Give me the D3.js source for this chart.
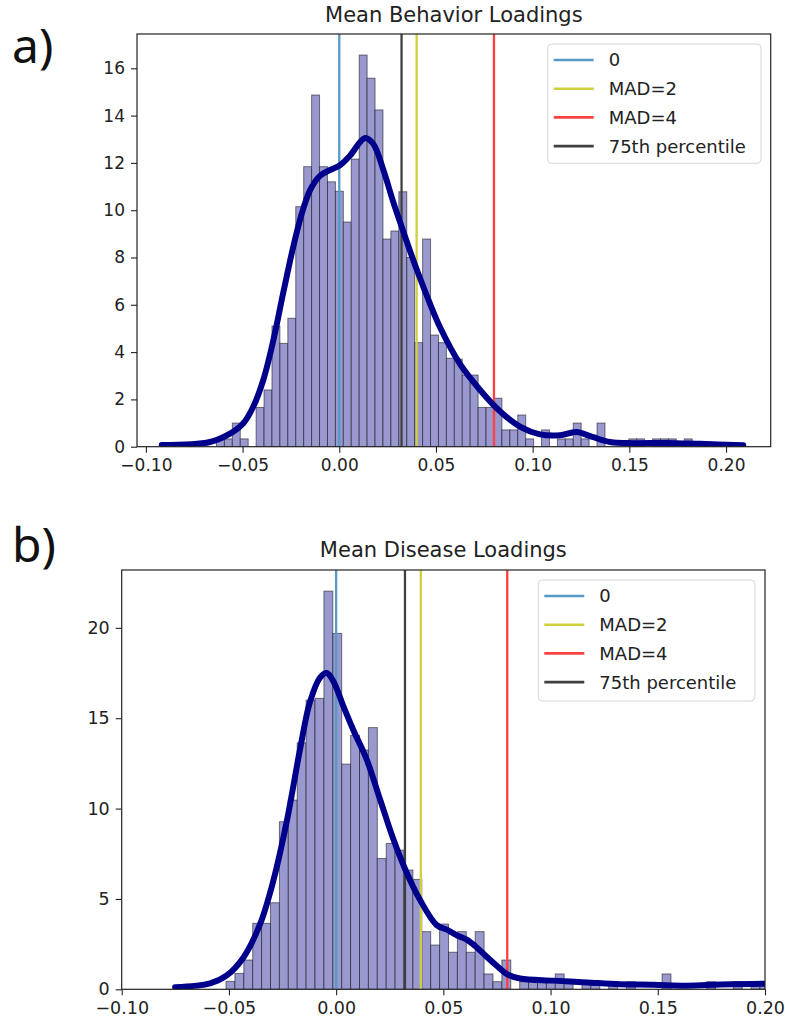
<!DOCTYPE html>
<html>
<head>
<meta charset="utf-8">
<script src="https://cdn.jsdelivr.net/npm/d3@7"></script>
<style>
  body { margin: 0; background: #fff; }
  text { font-family: "DejaVu Sans", sans-serif; }
</style>
</head>
<body>
<script>
// ---- data ----
var legendLabels = ["0", "MAD=2", "MAD=4", "75th percentile"];
var xTicks = [-0.10, -0.05, 0.00, 0.05, 0.10, 0.15, 0.20];

// a) behavior loadings: histogram (density) with fixed-width bins
var topBinStart = -0.0635, topBinWidth = 0.0041;
var topHeights = [0.33, 0.33, 1.0, 0.33, 0, 1.66, 2.4, 5.1, 4.37, 5.43,
  10.15, 11.84, 14.87, 11.84, 11.2, 10.8, 9.5, 12.16, 16.56, 15.58,
  14.24, 8.78, 9.12, 10.78, 8.0, 4.4, 8.78, 4.72, 4.4, 3.74,
  3.7, 3.03, 3.03, 1.66, 1.66, 2.05, 0.71, 0.71, 1.34, 0.33,
  0, 0.71, 0, 0.33, 0.33, 1.0, 0.33, 0, 1.0, 0,
  0, 0, 0.33, 0.33, 0, 0.33, 0.33, 0.33, 0, 0.33];
var topKde = [[-0.0918, 0.07], [-0.0669, 0.2], [-0.0565, 0.55], [-0.0496, 0.99], [-0.0445, 1.69],
  [-0.0393, 2.82], [-0.0341, 4.5], [-0.029, 6.5], [-0.0238, 8.45], [-0.0194, 9.85],
  [-0.0151, 10.85], [-0.01, 11.45], [-0.0048, 11.7], [0.0004, 11.9], [0.0055, 12.3],
  [0.0133, 13.05], [0.0176, 12.8], [0.0228, 11.7], [0.0279, 10.35], [0.0331, 9.1],
  [0.04, 7.5], [0.0469, 6.05], [0.0521, 5.05], [0.0624, 3.5], [0.0728, 2.4],
  [0.0831, 1.5], [0.0934, 0.85], [0.1038, 0.52], [0.1141, 0.48], [0.1227, 0.62],
  [0.1313, 0.4], [0.14, 0.2], [0.152, 0.15], [0.1693, 0.16], [0.1865, 0.12], [0.2089, 0.06]];
var topMarkers = [0, 0.040, 0.080, 0.0322];
var topYTicks = [0, 2, 4, 6, 8, 10, 12, 14, 16];

// b) disease loadings
var botBinStart = -0.05135, botBinWidth = 0.00415;
var botHeights = [0.44, 0.88, 1.62, 3.65, 3.65, 4.79, 9.27, 10.47, 13.64, 16.0,
  16.1, 22.03, 19.69, 12.46, 14.05, 13.24, 14.48, 7.24, 8.07, 7.7,
  6.6, 6.08, 3.19, 2.45, 3.61, 2.05, 3.19, 2.05, 3.19, 0.85,
  0.42, 1.62, 0, 0.42, 0.42, 0.42, 0.42, 0.85, 0.42, 0,
  0.42, 0.42, 0, 0.42, 0, 0.42, 0, 0, 0, 0.85,
  0, 0, 0, 0, 0.42, 0, 0, 0.42, 0, 0.42, 0.42];
var botKde = [[-0.0751, 0.12], [-0.0588, 0.33], [-0.051, 0.77], [-0.0433, 1.75], [-0.0355, 3.6],
  [-0.0293, 6.0], [-0.023, 9.3], [-0.0168, 13.3], [-0.0122, 15.9], [-0.0075, 17.25],
  [-0.0044, 17.5], [-0.0013, 17.05], [0.0034, 15.65], [0.008, 14.35], [0.0143, 12.7],
  [0.0205, 10.5], [0.0267, 8.3], [0.0329, 6.45], [0.0391, 4.95], [0.0469, 3.55],
  [0.0516, 3.3], [0.057, 2.95], [0.0609, 2.75], [0.0648, 2.4], [0.0702, 1.8],
  [0.0749, 1.3], [0.0803, 0.8], [0.0858, 0.6], [0.1013, 0.48], [0.1169, 0.38],
  [0.1324, 0.28], [0.1479, 0.25], [0.1635, 0.2], [0.1791, 0.26], [0.1946, 0.3], [0.205, 0.32]];
var botMarkers = [0, 0.0395, 0.0798, 0.0321];
var botYTicks = [0, 5, 10, 15, 20];

var markerColors = ["#5799c7", "#cfcf40", "#ff4040", "#404040"];

var svg = d3.select("body").append("svg")
    .attr("width", 785)
    .attr("height", 1025);

var fmt = function(d) { return d3.format(".2f")(d).replace("-", "\u2212"); };

function drawPanel(o) {
  var width = o.right - o.left, height = o.bottom - o.top;
  var x = d3.scaleLinear().domain(o.xDomain).range([0, width]);
  var y = d3.scaleLinear().domain(o.yDomain).range([height, 0]);

  var g = svg.append("g").attr("transform", "translate(" + o.left + "," + o.top + ")");

  g.append("clipPath").attr("id", o.id)
    .append("rect").attr("width", width).attr("height", height);

  var plot = g.append("g").attr("clip-path", "url(#" + o.id + ")");

  // histogram bars
  plot.selectAll("rect.bar")
    .data(o.heights.map(function(h, i) { return {x0: o.binStart + i * o.binWidth, h: h}; })
      .filter(function(d) { return d.h > 0; }))
    .enter().append("rect")
      .attr("class", "bar")
      .attr("x", function(d) { return x(d.x0); })
      .attr("width", function(d) { return x(d.x0 + o.binWidth) - x(d.x0); })
      .attr("y", function(d) { return y(d.h); })
      .attr("height", function(d) { return y(0) - y(d.h); })
      .attr("fill", "rgb(153,153,208)")
      .attr("stroke", "rgba(0,0,0,0.5)")
      .attr("stroke-width", 1);

  // threshold lines
  plot.selectAll("line.mark")
    .data(o.markers)
    .enter().append("line")
      .attr("x1", function(d) { return x(d); })
      .attr("x2", function(d) { return x(d); })
      .attr("y1", 0)
      .attr("y2", height)
      .attr("stroke", function(d, i) { return markerColors[i]; })
      .attr("stroke-width", 2.3);

  // kde
  var line = d3.line()
    .x(function(d) { return x(d[0]); })
    .y(function(d) { return y(d[1]); })
    .curve(d3.curveCatmullRom.alpha(0.5));

  plot.append("path")
    .attr("d", line(o.kde))
    .attr("fill", "none")
    .attr("stroke", "#00008b")
    .attr("stroke-width", 6)
    .attr("stroke-linejoin", "round")
    .attr("stroke-linecap", "round");

  // axes
  var xAxis = g.append("g")
    .attr("transform", "translate(0," + height + ")")
    .call(d3.axisBottom(x).tickValues(xTicks).tickFormat(fmt).tickSize(6).tickPadding(6));
  var yAxis = g.append("g")
    .call(d3.axisLeft(y).tickValues(o.yTicks).tickFormat(d3.format("d")).tickSize(6).tickPadding(6));
  [xAxis, yAxis].forEach(function(a) {
    a.select(".domain").remove();
    a.selectAll(".tick line").attr("stroke", "#222").attr("stroke-width", 1.1);
    a.selectAll(".tick text").attr("fill", "#222").style("font-size", o.tickFont + "px")
      .style("font-family", "DejaVu Sans");
  });

  g.append("rect")
    .attr("width", width).attr("height", height)
    .attr("fill", "none").attr("stroke", "#222").attr("stroke-width", 1.2);

  // title
  g.append("text")
    .attr("x", width / 2).attr("y", o.titleY - o.top)
    .attr("text-anchor", "middle")
    .style("font-size", "21px")
    .attr("fill", "#222")
    .text(o.title);

  // legend
  var lg = svg.append("g").attr("transform", "translate(" + o.legend[0] + "," + o.legend[1] + ")");
  lg.append("rect")
    .attr("width", o.legend[2]).attr("height", o.legend[3])
    .attr("rx", 4)
    .attr("fill", "#fff").attr("fill-opacity", 0.8)
    .attr("stroke", "#d6d6d6");
  legendLabels.forEach(function(lab, i) {
    var yy = 16 + i * 28.7;
    lg.append("line")
      .attr("x1", 6).attr("x2", 46).attr("y1", yy).attr("y2", yy)
      .attr("stroke", markerColors[i]).attr("stroke-width", 2.6);
    lg.append("text")
      .attr("x", 61).attr("y", yy).attr("dy", "0.36em")
      .style("font-size", "18px").attr("fill", "#222")
      .text(lab);
  });

  // panel letter
  svg.append("text")
    .attr("x", 12).attr("y", o.letterY)
    .style("font-family", "Noto Sans, sans-serif")
    .style("font-size", "48px")
    .attr("fill", "#111")
    .text(o.letter);
}

drawPanel({
  id: "clipA", left: 137, right: 770.7, top: 34, bottom: 446.7,
  xDomain: [-0.1046, 0.2231], yDomain: [0, 17.45],
  heights: topHeights, binStart: topBinStart, binWidth: topBinWidth,
  kde: topKde, markers: topMarkers, yTicks: topYTicks, tickFont: 17,
  title: "Mean Behavior Loadings", titleY: 22,
  legend: [547.7, 44, 213.3, 119.3], letter: "a)", letterY: 63
});

drawPanel({
  id: "clipB", left: 121.7, right: 765, top: 570, bottom: 989.3,
  xDomain: [-0.10, 0.20], yDomain: [0, 23.2],
  heights: botHeights, binStart: botBinStart, binWidth: botBinWidth,
  kde: botKde, markers: botMarkers, yTicks: botYTicks, tickFont: 17.5,
  title: "Mean Disease Loadings", titleY: 557,
  legend: [538.3, 580, 216.7, 121], letter: "b)", letterY: 562
});
</script>
</body>
</html>
